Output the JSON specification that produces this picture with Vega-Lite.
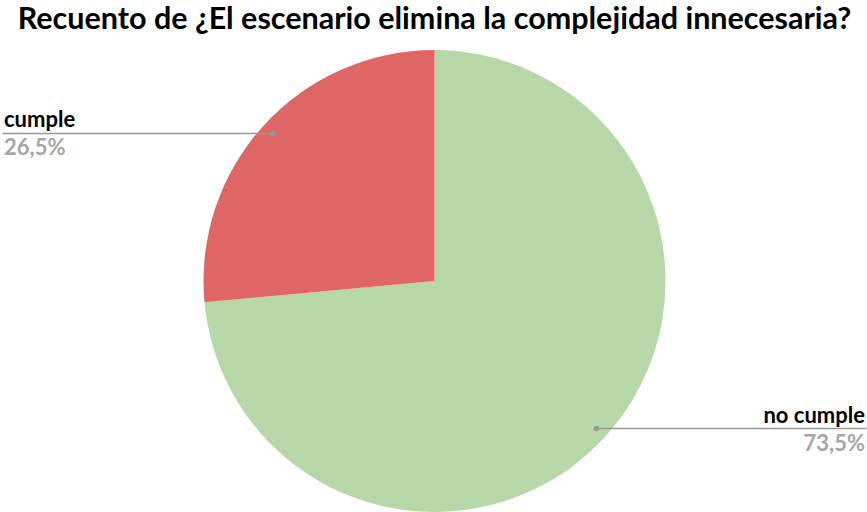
{
  "$schema": "https://vega.github.io/schema/vega-lite/v6.json",
  "width": 865,
  "height": 462,
  "autosize": {"type": "none"},
  "padding": {"top": 50, "left": 2, "right": 0, "bottom": 0},
  "background": "white",
  "title": {
    "text": "Recuento de ¿El escenario elimina la complejidad innecesaria?",
    "font": "Lato",
    "fontSize": 30.5,
    "fontWeight": "bold",
    "color": "#000000",
    "anchor": "middle",
    "offset": 15
  },
  "config": {"view": {"stroke": null}},
  "data": {
    "values": [
      {"respuesta": "no cumple", "cantidad": 25},
      {"respuesta": "cumple", "cantidad": 9}
    ]
  },
  "transform": [
    {"joinaggregate": [{"op": "sum", "field": "cantidad", "as": "total"}]},
    {"stack": "cantidad", "groupby": [], "sort": [{"field": "respuesta", "order": "descending"}], "as": ["s0", "s1"]},
    {"calculate": "datum.s0 / datum.total", "as": "f0"},
    {"calculate": "datum.s1 / datum.total", "as": "f1"},
    {"calculate": "PI * (datum.f0 + datum.f1)", "as": "mid"},
    {"calculate": "219 * sin(datum.mid)", "as": "px"},
    {"calculate": "219 * cos(datum.mid)", "as": "py"},
    {"calculate": "datum.px < 0 ? -432 : 432", "as": "edge"},
    {"calculate": "datum.px < 0 ? -430.5 : 430.5", "as": "tx"},
    {"calculate": "replace(format(datum.cantidad / datum.total * 100, '.1f'), '.', ',') + '%'", "as": "pct"}
  ],
  "layer": [
    {
      "mark": {"type": "arc", "outerRadius": 231},
      "encoding": {
        "theta": {"field": "f0", "type": "quantitative", "scale": {"domain": [0, 1]}},
        "theta2": {"field": "f1"},
        "color": {
          "field": "respuesta",
          "type": "nominal",
          "scale": {"domain": ["cumple", "no cumple"], "range": ["#e06666", "#b6d7a8"]},
          "legend": null
        }
      }
    },
    {
      "mark": {"type": "rule", "color": "#999999", "strokeWidth": 1.5},
      "encoding": {
        "x": {"field": "edge", "type": "quantitative", "scale": {"domain": [-432.5, 432.5], "nice": false, "zero": false}, "axis": null},
        "x2": {"field": "px"},
        "y": {"field": "py", "type": "quantitative", "scale": {"domain": [-231, 231], "nice": false, "zero": false}, "axis": null}
      }
    },
    {
      "mark": {"type": "circle", "color": "#999999", "opacity": 1, "size": 30},
      "encoding": {
        "x": {"field": "px", "type": "quantitative"},
        "y": {"field": "py", "type": "quantitative"}
      }
    },
    {
      "transform": [{"filter": "datum.px < 0"}],
      "mark": {"type": "text", "align": "left", "baseline": "alphabetic", "dy": -6, "font": "Lato", "fontSize": 22, "fontWeight": "bold", "color": "#000000"},
      "encoding": {
        "x": {"field": "tx", "type": "quantitative"},
        "y": {"field": "py", "type": "quantitative"},
        "text": {"field": "respuesta"}
      }
    },
    {
      "transform": [{"filter": "datum.px < 0"}],
      "mark": {"type": "text", "align": "left", "baseline": "alphabetic", "dy": 22, "font": "Lato", "fontSize": 22, "fontWeight": "bold", "color": "#a6a6a6"},
      "encoding": {
        "x": {"field": "tx", "type": "quantitative"},
        "y": {"field": "py", "type": "quantitative"},
        "text": {"field": "pct"}
      }
    },
    {
      "transform": [{"filter": "datum.px >= 0"}],
      "mark": {"type": "text", "align": "right", "baseline": "alphabetic", "dy": -6, "font": "Lato", "fontSize": 22, "fontWeight": "bold", "color": "#000000"},
      "encoding": {
        "x": {"field": "tx", "type": "quantitative"},
        "y": {"field": "py", "type": "quantitative"},
        "text": {"field": "respuesta"}
      }
    },
    {
      "transform": [{"filter": "datum.px >= 0"}],
      "mark": {"type": "text", "align": "right", "baseline": "alphabetic", "dy": 22, "font": "Lato", "fontSize": 22, "fontWeight": "bold", "color": "#a6a6a6"},
      "encoding": {
        "x": {"field": "tx", "type": "quantitative"},
        "y": {"field": "py", "type": "quantitative"},
        "text": {"field": "pct"}
      }
    }
  ]
}
